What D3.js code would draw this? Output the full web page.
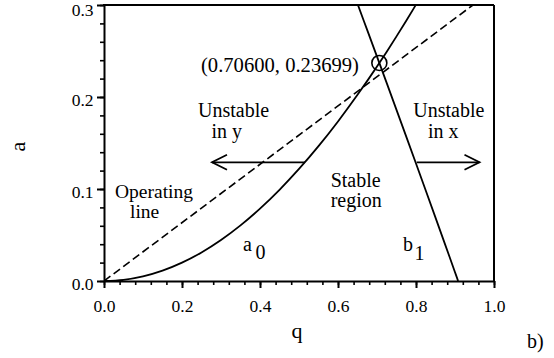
<!DOCTYPE html>
<html>
<head>
<meta charset="utf-8">
<script src="https://cdn.jsdelivr.net/npm/d3@7"></script>
<style>
  html, body { margin: 0; padding: 0; background: #fff; }
  svg { display: block; }
  svg text { font-family: "Liberation Serif", "Tinos", "Times New Roman", "Times", "Nimbus Roman", "Nimbus Roman No9 L", "FreeSerif", "DejaVu Serif", "Noto Serif", "Bitstream Vera Serif", serif !important; fill: #000; }
</style>
</head>
<body>
<svg id="chart" width="554" height="358"></svg>
<script>
// ---- data ----
const xTickValues = [0.0, 0.2, 0.4, 0.6, 0.8, 1.0];
const yTickValues = [0.0, 0.1, 0.2, 0.3];
// a0 boundary (q, a)
const a0Q = [0, 0.05, 0.10, 0.15, 0.20, 0.25, 0.30, 0.35, 0.40, 0.45, 0.50, 0.55, 0.60, 0.65, 0.675, 0.70, 0.725, 0.75, 0.775, 0.795, 0.80];
const a0A = [0, 0.00125, 0.00500, 0.01122, 0.01991, 0.03104, 0.04457, 0.06045, 0.07865, 0.09910, 0.12177, 0.14656, 0.17344, 0.20234, 0.21752, 0.23317, 0.24930, 0.26589, 0.28293, 0.29688, 0.30042];
// b1 boundary (q, a)
const b1Q = [0.64, 0.65, 0.675, 0.70, 0.725, 0.75, 0.775, 0.80, 0.825, 0.85, 0.875, 0.90, 0.908];
const b1A = [0.31275, 0.30133, 0.27268, 0.24391, 0.21502, 0.18602, 0.15690, 0.12766, 0.09831, 0.06884, 0.03927, 0.00958, 0.0];
// operating line (q, a)
const opQ = [0.0, 0.946];
const opA = [0.0, 0.30];
// marked intersection
const markQ = 0.706, markA = 0.23699;
const markLabel = "(0.70600, 0.23699)";

// ---- layout ----
const svg = d3.select("#chart");
const L = 104, R = 494, T = 5, B = 281;
const x = d3.scaleLinear().domain([0, 1]).range([L, R]);
const y = d3.scaleLinear().domain([0, 0.3]).range([B, T]);
const FONT = '"Liberation Serif", "Tinos", "Times New Roman", "Times", "Nimbus Roman", "FreeSerif", "DejaVu Serif", "Noto Serif", serif';

svg.append("defs").append("clipPath").attr("id", "clip")
  .append("rect").attr("x", L).attr("y", T).attr("width", R - L).attr("height", B - T);

const fontTick = 17.5;

// minor ticks
const xMinor = d3.range(0, 1.0001, 0.04);
const yMinor = d3.range(0, 0.3001, 0.02);
svg.append("g").attr("transform", `translate(0,${B})`)
  .call(d3.axisBottom(x).tickValues(xMinor).tickSize(4).tickSizeOuter(0).tickFormat(""))
  .call(g => g.select(".domain").remove())
  .call(g => g.selectAll("line").attr("stroke-width", 1.6));
svg.append("g").attr("transform", `translate(${L},0)`)
  .call(d3.axisLeft(y).tickValues(yMinor).tickSize(4).tickSizeOuter(0).tickFormat(""))
  .call(g => g.select(".domain").remove())
  .call(g => g.selectAll("line").attr("stroke-width", 1.6));

// major axes
const xAxis = svg.append("g").attr("transform", `translate(0,${B})`)
  .call(d3.axisBottom(x).tickValues(xTickValues).tickSize(7).tickSizeOuter(0).tickFormat(d3.format(".1f")));
xAxis.attr("font-family", FONT);
xAxis.select(".domain").attr("stroke-width", 2);
xAxis.selectAll("line").attr("stroke-width", 2);
xAxis.selectAll("text").attr("y", 30.7).attr("dy", 0)
  .style("font-size", fontTick + "px");

const yAxis = svg.append("g").attr("transform", `translate(${L},0)`)
  .call(d3.axisLeft(y).tickValues(yTickValues).tickSize(7).tickSizeOuter(0).tickFormat(d3.format(".1f")));
yAxis.attr("font-family", FONT);
yAxis.select(".domain").attr("stroke-width", 2);
yAxis.selectAll("line").attr("stroke-width", 2);
yAxis.selectAll("text").attr("x", -10.5).attr("dy", 0).attr("y", d => d >= 0.3 ? 10.5 : 8.6)
  .style("font-size", fontTick + "px");

// frame top & right
svg.append("line").attr("x1", L - 1).attr("x2", R).attr("y1", T).attr("y2", T)
  .attr("stroke", "#000").attr("stroke-width", 2);
svg.append("line").attr("x1", R).attr("x2", R).attr("y1", T).attr("y2", B)
  .attr("stroke", "#000").attr("stroke-width", 2);

const plot = svg.append("g").attr("clip-path", "url(#clip)");
const line = d3.line().x(d => x(d[0])).y(d => y(d[1])).curve(d3.curveMonotoneX);
const lineB = d3.line().x(d => x(d[0])).y(d => y(d[1])).curve(d3.curveCatmullRom);

plot.append("path").datum(a0Q.map((q, i) => [q, a0A[i]]))
  .attr("d", line).attr("fill", "none").attr("stroke", "#000").attr("stroke-width", 1.8);
plot.append("path").datum(b1Q.map((q, i) => [q, b1A[i]]))
  .attr("d", lineB).attr("fill", "none").attr("stroke", "#000").attr("stroke-width", 1.8);
plot.append("path").datum(opQ.map((q, i) => [q, opA[i]]))
  .attr("d", d3.line().x(d => x(d[0])).y(d => y(d[1])))
  .attr("fill", "none").attr("stroke", "#000").attr("stroke-width", 1.6)
  .attr("stroke-dasharray", "8,4");

// circle marker
svg.append("circle").attr("cx", x(markQ)).attr("cy", y(markA)).attr("r", 7.5)
  .attr("fill", "none").attr("stroke", "#000").attr("stroke-width", 1.6);

// arrows
function arrow(x1, x2, yy) {
  const dir = Math.sign(x2 - x1);
  svg.append("line").attr("x1", x1).attr("x2", x2).attr("y1", yy).attr("y2", yy)
    .attr("stroke", "#000").attr("stroke-width", 1.8);
  svg.append("path")
    .attr("d", `M${x2 - dir * 15},${yy - 7.5} L${x2},${yy} L${x2 - dir * 15},${yy + 7.5}`)
    .attr("fill", "none").attr("stroke", "#000").attr("stroke-width", 1.8);
}
arrow(305, 212, 162.3);
arrow(416.7, 479.5, 162.3);

// annotation texts
function txt(s, xx, yy, size, anchor) {
  return svg.append("text").attr("x", xx).attr("y", yy)
    .attr("font-family", FONT)
    .attr("text-anchor", anchor || "start").style("font-size", size + "px").text(s);
}
txt(markLabel, 201, 72, 21).attr("textLength", 158).attr("lengthAdjust", "spacingAndGlyphs");
txt("Unstable", 198, 116.7, 20);
txt("in y", 211.5, 138.3, 20);
txt("Unstable", 413.3, 116.7, 20);
txt("in x", 428, 137.7, 20);
txt("Operating", 115, 198, 19.5);
txt("line", 130, 218, 19.5);
txt("Stable", 330.7, 186.7, 20);
txt("region", 330.7, 206.7, 20);
txt("a", 243, 251, 20);
txt("0", 255.5, 259.3, 20);
txt("b", 403, 250.7, 20);
txt("1", 414.5, 260, 20);

// axis labels
txt("q", 297, 338, 22, "middle");
svg.append("text").attr("transform", "translate(25,146.7) rotate(-90)")
  .attr("font-family", FONT)
  .attr("text-anchor", "middle").style("font-size", "22px").text("a");
txt("b)", 527, 348, 20);
</script>
</body>
</html>
